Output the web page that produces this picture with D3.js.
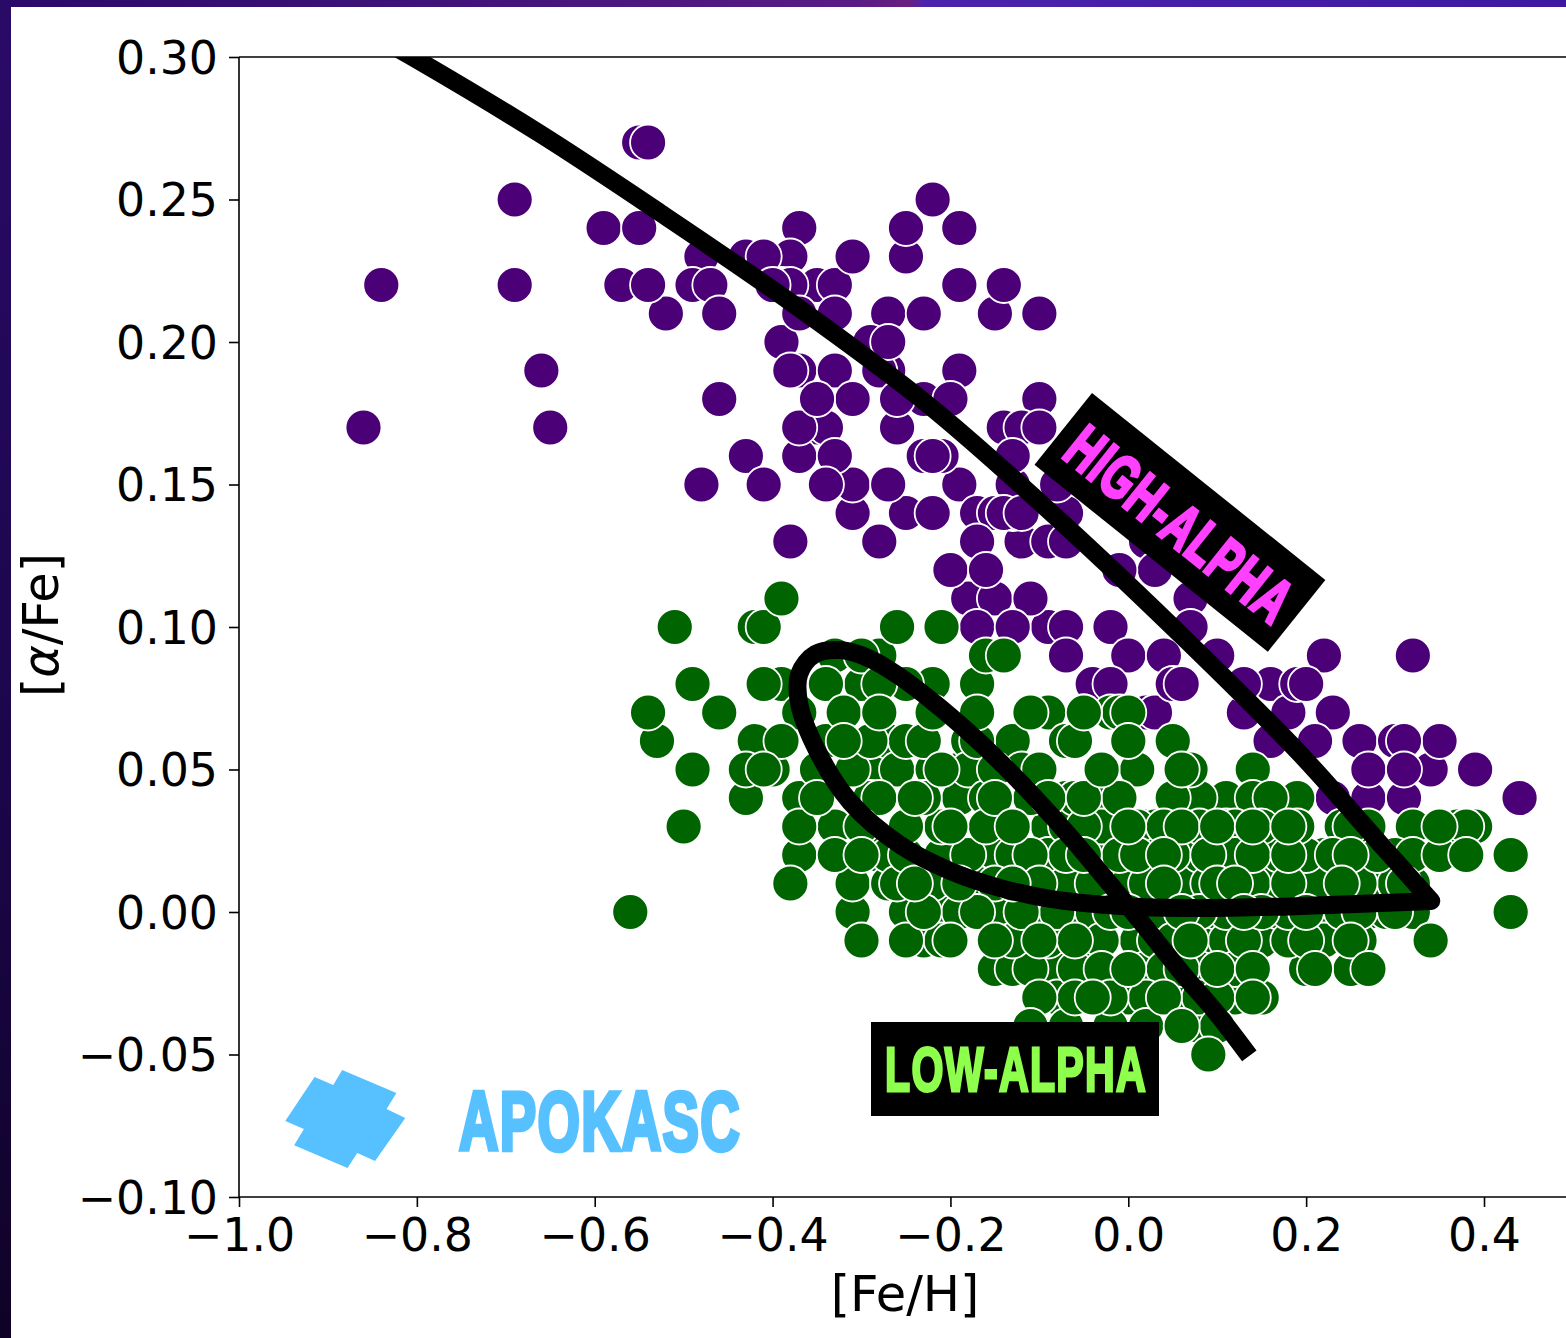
<!DOCTYPE html>
<html>
  <head>
    <meta charset="utf-8" />
    <script src="https://cdn.jsdelivr.net/npm/d3@7"></script>
    <style>
      body { margin: 0; background: #fff; }
      svg { display: block; }
      text { font-family: "DejaVu Sans", sans-serif; fill: #000; }
      .poster { font-family: "Liberation Sans Narrow", "Liberation Sans", sans-serif; font-weight: 700; letter-spacing: 2px; }
    </style>
  </head>
  <body>
    <div id="chart"></div>
    <script>
      const xTicks = [-1.0, -0.8, -0.6, -0.4, -0.2, 0.0, 0.2, 0.4];
      const yTicks = [-0.10, -0.05, 0.0, 0.05, 0.10, 0.15, 0.20, 0.25, 0.30];

      // rows of [alpha/Fe, list of Fe/H], values sit on a 0.01 grid
      const highAlphaRows = [
        [0.27, [-0.55]],
        [0.25, [-0.69, -0.22]],
        [0.23, [-0.48, -0.43, -0.41, -0.38, -0.31, -0.25]],
        [0.24, [-0.59, -0.55, -0.37, -0.19]],
        [0.22, [-0.84, -0.69, -0.57, -0.54, -0.49, -0.47, -0.40, -0.39, -0.38, -0.35, -0.33, -0.19, -0.14]],
        [0.20, [-0.39, -0.29]],
        [0.21, [-0.52, -0.46, -0.33, -0.27, -0.23, -0.15, -0.10]],
        [0.19, [-0.66, -0.37, -0.33, -0.28, -0.27, -0.19]],
        [0.16, [-0.43, -0.37, -0.33, -0.23, -0.21, -0.13]],
        [0.18, [-0.46, -0.31, -0.26, -0.23, -0.20, -0.10]],
        [0.17, [-0.86, -0.65, -0.35, -0.34, -0.26, -0.14, -0.12]],
        [0.13, [-0.38, -0.28, -0.17, -0.12, -0.09, -0.07, 0.02]],
        [0.15, [-0.48, -0.41, -0.31, -0.27, -0.19, -0.13, -0.08]],
        [0.14, [-0.31, -0.25, -0.22, -0.17, -0.15, -0.14, -0.13, -0.07]],
        [0.11, [-0.18, -0.15, -0.11, 0.07]],
        [0.12, [-0.20, -0.01, 0.03]],
        [0.10, [-0.17, -0.13, -0.09, -0.07, -0.02, 0.07]],
        [0.09, [-0.07, 0.0, 0.04, 0.10, 0.22, 0.32]],
        [0.08, [-0.04, -0.02, 0.05, 0.16, 0.19, 0.20]],
        [0.07, [0.02, 0.03, 0.13, 0.18, 0.23]],
        [0.04, [0.23, 0.27, 0.31, 0.44]],
        [0.06, [0.16, 0.21, 0.26, 0.30, 0.35]],
        [0.05, [0.34, 0.39]]
      ];
      const highAlphaFront = [
        [0.27, [-0.54]],
        [0.24, [-0.25]],
        [0.21, [-0.37]],
        [0.20, [-0.27]],
        [0.19, [-0.38]],
        [0.17, [-0.37, -0.10]],
        [0.18, [-0.35]],
        [0.16, [-0.22]],
        [0.15, [-0.34]],
        [0.14, [-0.12]],
        [0.12, [-0.16]],
        [0.08, [0.06, 0.13]],
        [0.06, [0.31]],
        [0.05, [0.27, 0.31]]
      ];
      const lowAlphaRows = [
        [0.10, [-0.51, -0.42, -0.26, -0.21]],
        [0.09, [-0.33, -0.30, -0.28, -0.16, -0.14]],
        [0.08, [-0.49, -0.41, -0.39, -0.30, -0.25, -0.22, -0.17]],
        [0.07, [-0.54, -0.46, -0.37, -0.11, -0.09, -0.05, -0.02, -0.01]],
        [0.06, [-0.53, -0.42, -0.34, -0.29, -0.27, -0.25, -0.23, -0.18, -0.17, -0.13, -0.07, -0.06, 0.05]],
        [0.05, [-0.49, -0.43, -0.40, -0.31, -0.28, -0.26, -0.22, -0.19, -0.18, -0.15, -0.12, -0.10, -0.03, 0.01, 0.07, 0.14]],
        [0.04, [-0.43, -0.37, -0.29, -0.28, -0.23, -0.19, -0.16, -0.15, -0.11, -0.09, -0.07, -0.06, -0.05, -0.04, -0.01, 0.05, 0.06, 0.08, 0.11, 0.14, 0.16, 0.19]],
        [0.03, [-0.50, -0.37, -0.33, -0.30, -0.25, -0.21, -0.16, -0.09, -0.07, -0.05, -0.04, -0.03, 0.01, 0.02, 0.03, 0.04, 0.07, 0.08, 0.11, 0.12, 0.15, 0.16, 0.17, 0.19, 0.24, 0.27, 0.32, 0.37, 0.38, 0.39]],
        [0.02, [-0.37, -0.33, -0.28, -0.27, -0.25, -0.21, -0.18, -0.15, -0.13, -0.11, -0.09, -0.07, -0.05, -0.03, -0.01, 0.01, 0.02, 0.05, 0.06, 0.08, 0.09, 0.11, 0.12, 0.14, 0.15, 0.17, 0.18, 0.19, 0.20, 0.22, 0.26, 0.28, 0.30, 0.32, 0.35, 0.43]],
        [0.01, [-0.38, -0.31, -0.27, -0.26, -0.25, -0.22, -0.19, -0.17, -0.15, -0.10, -0.07, -0.04, -0.03, 0.0, 0.02, 0.07, 0.09, 0.14, 0.15, 0.16, 0.18, 0.20, 0.21, 0.22, 0.25, 0.26, 0.28, 0.30, 0.31, 0.32]],
        [0.00, [-0.56, -0.31, -0.25, -0.23, -0.21, -0.19, -0.17, -0.16, -0.14, -0.12, -0.10, -0.08, -0.06, -0.04, -0.02, 0.02, 0.04, 0.08, 0.10, 0.11, 0.15, 0.17, 0.18, 0.22, 0.24, 0.26, 0.27, 0.29, 0.30, 0.31, 0.32, 0.43]],
        [-0.01, [-0.30, -0.25, -0.23, -0.21, -0.13, -0.12, -0.09, -0.06, -0.04, -0.03, 0.01, 0.03, 0.05, 0.09, 0.11, 0.13, 0.15, 0.18, 0.20, 0.22, 0.26]],
        [-0.02, [-0.15, -0.13, -0.11, -0.08, -0.06, -0.03, 0.02, 0.04, 0.06, 0.08, 0.12, 0.20, 0.25]],
        [-0.03, [-0.10, -0.08, -0.06, -0.02, 0.0, 0.02, 0.06, 0.08, 0.10, 0.12, 0.15]],
        [-0.04, [-0.11, -0.07, -0.02, 0.02, 0.08, 0.10]]
      ];
      const lowAlphaFront = [
        [0.10, [-0.41]],
        [0.11, [-0.39]],
        [0.08, [-0.34, -0.28]],
        [0.07, [-0.32, -0.28, -0.22, -0.17, -0.05, 0.0]],
        [0.06, [-0.39, -0.32, 0.0]],
        [0.05, [-0.41, -0.35, -0.21, 0.06]],
        [0.04, [-0.35, -0.24]],
        [0.03, [-0.20, -0.13, 0.0, 0.06, 0.10, 0.14, 0.18, 0.25, 0.35]],
        [0.02, [-0.30, 0.04, 0.23, 0.25, 0.38]],
        [0.01, [-0.24, -0.13, 0.04, 0.10, 0.12, 0.24]],
        [0.00, [0.0, 0.06, 0.13, 0.20]],
        [-0.01, [-0.20, -0.15, -0.10, 0.07, 0.25, 0.34]],
        [-0.02, [0.0, 0.10, 0.14, 0.21, 0.27]],
        [-0.03, [-0.04, 0.04, 0.14]],
        [-0.04, [0.06]],
        [-0.05, [0.09]]
      ];

      // model track, upper branch then the loop
      const trackOutFeH = [-0.8411, -0.8051, -0.6612, -0.5263, -0.3767, -0.2260, -0.0765, 0.0697, 0.1934, 0.2834, 0.3407];
      const trackOutAlpha = [0.3063, 0.3000, 0.2730, 0.2453, 0.2133, 0.1782, 0.1372, 0.0940, 0.0554, 0.0239, 0.0039];
      const trackBackFeH = [0.3407, 0.1934, 0.0810, -0.0090, -0.0877, -0.1439, -0.2002, -0.2564, -0.3126, -0.3497, -0.3700, -0.3700, -0.3520, -0.3239, -0.2901, -0.2564, -0.2193, -0.1810, -0.1439, -0.1035, -0.0630, -0.0225, 0.0191, 0.0596, 0.1001, 0.1361];
      const trackBackAlpha = [0.0039, 0.0021, 0.0014, 0.0021, 0.0046, 0.0084, 0.0144, 0.0235, 0.0386, 0.0565, 0.0730, 0.0835, 0.0905, 0.0919, 0.0888, 0.0825, 0.0737, 0.0635, 0.0526, 0.0396, 0.0256, 0.0105, -0.0053, -0.0211, -0.0358, -0.0505];

      const logoFeH = [-0.884, -0.823, -0.834, -0.813, -0.847, -0.867, -0.878, -0.938, -0.927, -0.948, -0.915, -0.894];
      const logoAlpha = [-0.0554, -0.0635, -0.0691, -0.0723, -0.0874, -0.0846, -0.0898, -0.0818, -0.0761, -0.0733, -0.0579, -0.0607];

      const width = 1566, height = 1338;
      let margin = { top: 57, right: 0, bottom: 141, left: 239 };

      let svg = d3.select("#chart").append("svg")
        .attr("width", width)
        .attr("height", height);

      // slide frame behind the figure
      let defs = svg.append("defs");
      let topGrad = defs.append("linearGradient").attr("id", "topBand");
      [[0, "#2a0a68"], [0.25, "#3d1278"], [0.55, "#5a1c84"], [0.58, "#6a1f7e"], [0.59, "#4c24ac"], [1, "#3f18a0"]]
        .forEach((s) => topGrad.append("stop").attr("offset", s[0]).attr("stop-color", s[1]));
      let leftGrad = defs.append("linearGradient").attr("id", "leftBand").attr("x2", 0).attr("y2", 1);
      [[0, "#2a0a68"], [0.6, "#1a0648"], [1, "#100226"]]
        .forEach((s) => leftGrad.append("stop").attr("offset", s[0]).attr("stop-color", s[1]));
      svg.append("rect").attr("width", width).attr("height", 7).attr("fill", "url(#topBand)");
      svg.append("rect").attr("width", 11).attr("height", height).attr("fill", "url(#leftBand)");

      let x = d3.scaleLinear().domain([-1.0, 0.4]).range([margin.left, 1484]);
      let y = d3.scaleLinear().domain([-0.10, 0.30]).range([height - margin.bottom, margin.top]);

      defs.append("clipPath").attr("id", "plotClip").append("rect")
        .attr("x", margin.left)
        .attr("y", margin.top)
        .attr("width", width - margin.left)
        .attr("height", height - margin.bottom - margin.top);

      function drawRows(rows, colour, mixed) {
        let points = rows.flatMap((r) => r[1].map((feh) => [feh, r[0]]));
        // back layer is stirred so neighbours don't stack like fish scales
        if (mixed) {
          points = points
            .map((p, i) => [(i * 37) % 101, p])
            .sort((a, b) => a[0] - b[0])
            .map((d) => d[1]);
        }
        svg.append("g").selectAll("circle")
          .data(points)
          .enter()
          .append("circle")
          .attr("cx", (d) => x(d[0]))
          .attr("cy", (d) => y(d[1]))
          .attr("r", 18)
          .attr("fill", colour)
          .attr("stroke", "#fff")
          .attr("stroke-width", 1.8);
      }
      drawRows(highAlphaRows, "#4b0078", true);
      drawRows(highAlphaFront, "#4b0078", false);
      drawRows(lowAlphaRows, "#006400", true);
      drawRows(lowAlphaFront, "#006400", false);

      // track, second part joined on so the corner at the tip stays round
      let trackLine = d3.line()
        .x((d) => x(d[0]))
        .y((d) => y(d[1]))
        .curve(d3.curveCatmullRom.alpha(0.5));
      let outPath = trackLine(d3.zip(trackOutFeH, trackOutAlpha));
      let backPath = trackLine(d3.zip(trackBackFeH, trackBackAlpha)).replace(/^M/, "L");
      svg.append("path")
        .attr("clip-path", "url(#plotClip)")
        .attr("d", outPath + backPath)
        .attr("fill", "none")
        .attr("stroke", "#000")
        .attr("stroke-width", 18)
        .attr("stroke-linejoin", "round");

      // axes
      let xAxis = d3.axisBottom(x).tickValues(xTicks).tickFormat(d3.format(".1f")).tickSize(10).tickPadding(11);
      let yAxis = d3.axisLeft(y).tickValues(yTicks).tickFormat(d3.format(".2f")).tickSize(10).tickPadding(11);
      let xGroup = svg.append("g").attr("transform", "translate(0," + y(-0.10) + ")").call(xAxis);
      let yGroup = svg.append("g").attr("transform", "translate(" + margin.left + ",0)").call(yAxis);
      xGroup.select(".domain").attr("d", "M" + margin.left + ",0H" + width);
      yGroup.select(".domain").attr("d", "M0," + y(-0.10) + "V" + y(0.30));
      svg.append("line")
        .attr("x1", margin.left).attr("x2", width)
        .attr("y1", y(0.30)).attr("y2", y(0.30))
        .attr("stroke", "#000").attr("stroke-width", 1.6);
      svg.selectAll(".domain, .tick line").attr("stroke", "#000").attr("stroke-width", 1.6);
      svg.selectAll(".tick text").attr("font-size", 45.8).attr("font-family", "DejaVu Sans").attr("fill", "#000");
      yGroup.selectAll(".tick text").attr("dy", "0.35em");

      svg.append("text")
        .attr("x", 905).attr("y", 1311)
        .attr("text-anchor", "middle")
        .attr("font-size", 49.5)
        .text("[Fe/H]");
      let yLabel = svg.append("text")
        .attr("transform", "translate(58,625) rotate(-90)")
        .attr("text-anchor", "middle")
        .attr("font-size", 49.5);
      yLabel.append("tspan").text("[");
      yLabel.append("tspan").attr("font-style", "italic").text("α");
      yLabel.append("tspan").text("/Fe]");

      // pasted-on labels
      function posterText(parent, label, colour, tx, ty, len, size, heavy) {
        parent.append("text")
          .attr("class", "poster")
          .attr("x", tx).attr("y", ty)
          .attr("textLength", len)
          .attr("lengthAdjust", "spacingAndGlyphs")
          .attr("font-size", size)
          .attr("stroke", colour)
          .attr("stroke-width", heavy)
          .style("fill", colour)
          .text(label);
      }

      let logo = d3.line().x((d) => x(d[0])).y((d) => y(d[1]));
      svg.append("path")
        .attr("d", logo(d3.zip(logoFeH, logoAlpha)) + "Z")
        .attr("fill", "#57c1ff");
      posterText(svg, "APOKASC", "#57c1ff", 459, 1150, 282, 84, 4.5);

      svg.append("rect").attr("x", 871).attr("y", 1022).attr("width", 288).attr("height", 94).attr("fill", "#000");
      posterText(svg, "LOW-ALPHA", "#8eff4c", 885, 1091, 262, 63, 3);

      let high = svg.append("g").attr("transform", "translate(1092,393) rotate(38.7)");
      high.append("rect").attr("y", 0).attr("width", 299).attr("height", 92).attr("fill", "#000");
      posterText(high, "HIGH-ALPHA", "#ff40ff", 15, 69, 272, 62, 3.5);
    </script>
  </body>
</html>
